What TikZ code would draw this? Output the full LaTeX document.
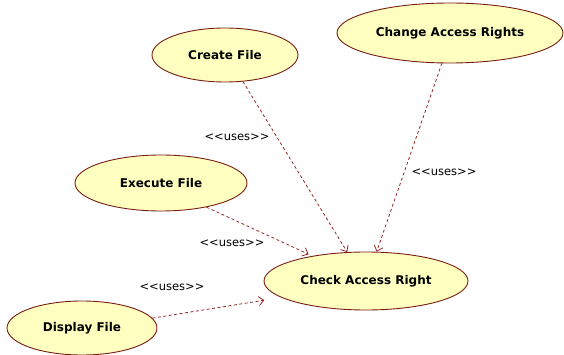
\documentclass[tikz,border=0pt]{standalone}
\usepackage{fontspec}
\setmainfont{DejaVu Sans}
\usetikzlibrary{shapes.geometric,arrows.meta}
\definecolor{ucfill}{RGB}{255,255,192}
\definecolor{ucline}{RGB}{120,30,20}
\definecolor{depline}{RGB}{150,40,40}
\tikzset{
  usecase/.style={ellipse, draw=ucline, line width=0.9pt, fill=ucfill,
    font=\fontsize{12}{14}\selectfont\bfseries, inner sep=0pt},
  uses/.style={draw=depline, line width=0.8pt, dash pattern=on 3pt off 2.5pt,
    -{Straight Barb[length=5pt,width=9pt]}},
  stereo/.style={font=\fontsize{11.5}{13}\selectfont, inner sep=0pt}
}
\begin{document}
\begin{tikzpicture}[x=1pt,y=-1pt]
\useasboundingbox[fill=white] (0,0) rectangle (564,355);

% use cases
\node[usecase, minimum width=146pt, minimum height=54pt] (create)  at (225,55)  {Create File};
\node[usecase, minimum width=226pt, minimum height=60pt] (change)  at (450,33)  {Change Access Rights};
\node[usecase, minimum width=172pt, minimum height=56pt] (execute) at (161,183) {Execute File};
\node[usecase, minimum width=204pt, minimum height=58pt] (check)   at (366,281) {Check Access Right};
\node[usecase, minimum width=150pt, minimum height=54pt] (display) at (82,328)  {Display File};

% <<uses>> dependencies
\draw[uses] (create.-56) -- (check.123);
\draw[uses] (change.-105) -- (check.70);
\draw[uses, shorten >=4pt] (execute.-28) -- (check.155);
\draw[uses, shorten >=17pt] (display.8) -- (check.191);

% stereotype labels
\node[stereo] (l1) at (237,137) {<{}<uses>{}>};
\node[stereo] (l2) at (444,172) {<{}<uses>{}>};
\node[stereo] (l3) at (232,243) {<{}<uses>{}>};
\node[stereo] (l4) at (172,287) {<{}<uses>{}>};
\end{tikzpicture}
\end{document}
